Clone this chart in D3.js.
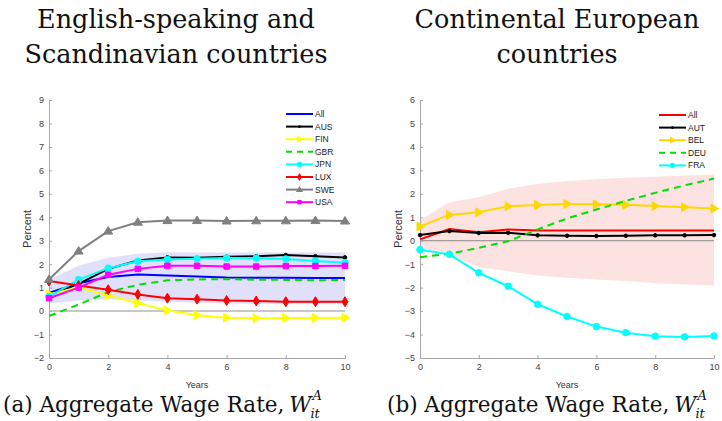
<!DOCTYPE html>
<meta charset="utf-8">
<head>
<script src="https://d3js.org/d3.v7.min.js"></script>
<style>
  body { margin: 0; background: #fff; }
  svg text { font-family: "Liberation Sans", Arial, sans-serif; }
</style>
</head>
<body>
<div id="chart"></div>
<script>
var years = [0, 1, 2, 3, 4, 5, 6, 7, 8, 9, 10];

// panel (a): English-speaking and Scandinavian countries
var leftNames = ["All", "AUS", "FIN", "GBR", "JPN", "LUX", "SWE", "USA"];
var leftAll = [0.77, 1.19, 1.45, 1.56, 1.52, 1.48, 1.43, 1.42, 1.42, 1.41, 1.41];
var leftAUS = [0.67, 1.16, 1.80, 2.16, 2.29, 2.27, 2.32, 2.34, 2.39, 2.34, 2.29];
var leftFIN = [0.72, 1.00, 0.67, 0.34, 0.03, -0.18, -0.28, -0.30, -0.29, -0.29, -0.28];
var leftGBR = [-0.21, 0.28, 0.81, 1.12, 1.31, 1.35, 1.36, 1.34, 1.33, 1.31, 1.33];
var leftJPN = [0.62, 1.34, 1.83, 2.12, 2.20, 2.23, 2.26, 2.26, 2.22, 2.14, 2.06];
var leftLUX = [1.28, 1.09, 0.91, 0.71, 0.55, 0.51, 0.45, 0.43, 0.40, 0.40, 0.40];
var leftSWE = [1.35, 2.56, 3.41, 3.79, 3.86, 3.86, 3.84, 3.85, 3.85, 3.86, 3.84];
var leftUSA = [0.55, 1.00, 1.55, 1.80, 1.93, 1.93, 1.90, 1.90, 1.92, 1.92, 1.93];
var leftBandHi = [1.35, 1.93, 2.27, 2.44, 2.51, 2.50, 2.50, 2.50, 2.50, 2.50, 2.50];
var leftBandLo = [0.32, 0.45, 0.50, 0.45, 0.40, 0.35, 0.32, 0.30, 0.30, 0.30, 0.30];

// panel (b): Continental European countries
var rightNames = ["All", "AUT", "BEL", "DEU", "FRA"];
var rightAll = [0.06, 0.50, 0.36, 0.48, 0.44, 0.44, 0.44, 0.44, 0.44, 0.44, 0.44];
var rightAUT = [0.24, 0.41, 0.33, 0.34, 0.23, 0.21, 0.20, 0.21, 0.23, 0.23, 0.24];
var rightBEL = [0.61, 1.10, 1.21, 1.47, 1.52, 1.57, 1.55, 1.53, 1.48, 1.43, 1.37];
var rightDEU = [-0.70, -0.56, -0.30, -0.02, 0.48, 0.95, 1.33, 1.70, 2.04, 2.36, 2.65];
var rightFRA = [-0.38, -0.58, -1.37, -1.94, -2.71, -3.23, -3.66, -3.92, -4.07, -4.10, -4.06];
var rightBandHi = [0.87, 1.64, 1.85, 2.22, 2.42, 2.55, 2.62, 2.68, 2.73, 2.78, 2.82];
var rightBandLo = [-0.40, -0.62, -1.13, -1.30, -1.48, -1.58, -1.65, -1.72, -1.80, -1.86, -1.91];

var leftTicksY = [-2, -1, 0, 1, 2, 3, 4, 5, 6, 7, 8, 9];
var rightTicksY = [-5, -4, -3, -2, -1, 0, 1, 2, 3, 4, 5, 6];
var ticksX = [0, 2, 4, 6, 8, 10];

var W = 722, H = 421;
var svg = d3.select("#chart").append("svg").attr("width", W).attr("height", H);

var styles = {
  "All":  {color: "#0000ff", marker: null},
  "AUS":  {color: "#000000", marker: "dot"},
  "FIN":  {color: "#ffff00", marker: "right"},
  "GBR":  {color: "#00e000", marker: null, dash: "7,5"},
  "JPN":  {color: "#00ffff", marker: "circle"},
  "LUX":  {color: "#ff0000", marker: "diamond"},
  "SWE":  {color: "#808080", marker: "up"},
  "USA":  {color: "#ff00ff", marker: "square"}
};
var stylesR = {
  "All":  {color: "#ff0000", marker: null},
  "AUT":  {color: "#000000", marker: "dot"},
  "BEL":  {color: "#ffd700", marker: "right"},
  "DEU":  {color: "#00e000", marker: null, dash: "7,5"},
  "FRA":  {color: "#00ffff", marker: "circle"}
};

function markerPath(kind) {
  if (kind === "circle") return d3.symbol().type(d3.symbolCircle).size(34)();
  if (kind === "square") return d3.symbol().type(d3.symbolSquare).size(30)();
  if (kind === "diamond") return "M0,-5L3,0L0,5L-3,0Z";
  if (kind === "up") return "M0,-4.5L4.5,3L-4.5,3Z";
  if (kind === "right") return "M4.5,0L-3,-4.5L-3,4.5Z";
  if (kind === "dot") return d3.symbol().type(d3.symbolCircle).size(10)();
  return null;
}

function drawPanel(cfg) {
  var g = svg.append("g");
  var x = d3.scaleLinear().domain([0, 10]).range([cfg.x0, cfg.x1]);
  var y = d3.scaleLinear().domain(cfg.ydom).range([358, 100]);

  // confidence band
  var area = d3.area().x(function (d, i) { return x(years[i]); })
    .y0(function (d, i) { return y(cfg.lo[i]); })
    .y1(function (d, i) { return y(cfg.hi[i]); });
  g.append("path").datum(cfg.hi).attr("d", area).attr("fill", cfg.band);

  // zero line
  g.append("line").attr("x1", x(0)).attr("x2", x(10)).attr("y1", y(0)).attr("y2", y(0))
    .attr("stroke", cfg.zeroColor).attr("stroke-width", cfg.zeroWidth);

  // axes
  var yAxis = d3.axisLeft(y).tickValues(cfg.yticks).tickSize(-3).tickPadding(5).tickFormat(d3.format("d"));
  var xAxis = d3.axisBottom(x).tickValues(ticksX).tickSize(-3).tickPadding(6).tickFormat(d3.format("d"));
  var ga = g.append("g").attr("transform", "translate(" + cfg.x0 + ",0)").call(yAxis);
  var gb = g.append("g").attr("transform", "translate(0,358)").call(xAxis);
  [ga, gb].forEach(function (a) {
    a.select(".domain").attr("stroke", "#a8a8a8");
    a.selectAll(".tick line").attr("stroke", "#a8a8a8");
    a.selectAll(".tick text").attr("fill", "#444").style("font-size", "9px");
  });

  // series
  var line = d3.line().x(function (d, i) { return x(years[i]); }).y(function (d) { return y(d); });
  cfg.names.forEach(function (n, k) {
    var st = cfg.styles[n], vals = cfg.series[k];
    g.append("path").datum(vals).attr("d", line).attr("fill", "none")
      .attr("stroke", st.color).attr("stroke-width", 2)
      .attr("stroke-dasharray", st.dash || null);
    if (st.marker) {
      g.selectAll(null).data(vals).enter().append("path")
        .attr("d", markerPath(st.marker))
        .attr("transform", function (d, i) { return "translate(" + x(years[i]) + "," + y(d) + ")"; })
        .attr("fill", st.color).attr("stroke", st.color).attr("stroke-width", 1);
    }
  });

  // legend
  cfg.names.forEach(function (n, k) {
    var st = cfg.styles[n], ly = cfg.legY + k * cfg.legStep;
    g.append("line").attr("x1", cfg.legX).attr("x2", cfg.legX + 27).attr("y1", ly).attr("y2", ly)
      .attr("stroke", st.color).attr("stroke-width", 2).attr("stroke-dasharray", st.dash ? "6,5" : null);
    if (st.marker) {
      g.append("path").attr("d", markerPath(st.marker))
        .attr("transform", "translate(" + (cfg.legX + 13.5) + "," + ly + ") scale(0.8)")
        .attr("fill", st.color);
    }
    g.append("text").attr("x", cfg.legX + 29).attr("y", ly + 3).text(n)
      .style("font-size", "8.5px").attr("fill", "#222");
  });

  // axis labels
  g.append("text").attr("x", (cfg.x0 + cfg.x1) / 2).attr("y", 388).attr("text-anchor", "middle")
    .style("font-size", "9px").attr("fill", "#333").text("Years");
  g.append("text").attr("transform", "translate(" + (cfg.x0 - 18) + ",229) rotate(-90)")
    .attr("text-anchor", "middle").style("font-size", "11px").attr("fill", "#333").text("Percent");

  // title
  cfg.title.forEach(function (t, i) {
    g.append("text").attr("x", cfg.titleX).attr("y", 28 + i * 35).attr("text-anchor", "middle")
      .style("font-family", "'DejaVu Serif', serif").style("font-size", "25.5px").attr("fill", "#111").text(t);
  });

  // caption
  var cap = g.append("text").attr("x", cfg.capX).attr("y", 412)
    .style("font-family", "'DejaVu Serif', serif").style("font-size", "21.5px").attr("fill", "#111")
    .text(cfg.caption);
  var cw = cap.node().getComputedTextLength();
  var wx = cfg.capX + cw + 5;
  var wt = g.append("text").attr("x", wx).attr("y", 412)
    .style("font-family", "'DejaVu Serif', serif").style("font-style", "italic")
    .style("font-size", "21.5px").attr("fill", "#111").text("W");
  var ww = wt.node().getComputedTextLength();
  g.append("text").attr("x", wx + ww + 1).attr("y", 400)
    .style("font-family", "'DejaVu Serif', serif").style("font-style", "italic")
    .style("font-size", "13px").attr("fill", "#111").text("A");
  g.append("text").attr("x", wx + ww - 1).attr("y", 418)
    .style("font-family", "'DejaVu Serif', serif").style("font-style", "italic")
    .style("font-size", "13px").attr("fill", "#111").text("it");
}

drawPanel({
  x0: 49, x1: 345, ydom: [-2, 9], yticks: leftTicksY,
  names: leftNames,
  series: [leftAll, leftAUS, leftFIN, leftGBR, leftJPN, leftLUX, leftSWE, leftUSA],
  styles: styles, hi: leftBandHi, lo: leftBandLo, band: "#e0e0fa",
  zeroColor: "#c8c8c8", zeroWidth: 2,
  legX: 286, legY: 114, legStep: 12.6,
  title: ["English-speaking and", "Scandinavian countries"], titleX: 176,
  caption: "(a) Aggregate Wage Rate,", capX: 3
});

drawPanel({
  x0: 420, x1: 714, ydom: [-5, 6], yticks: rightTicksY,
  names: rightNames,
  series: [rightAll, rightAUT, rightBEL, rightDEU, rightFRA],
  styles: stylesR, hi: rightBandHi, lo: rightBandLo, band: "#fde2e2",
  zeroColor: "#888", zeroWidth: 1,
  legX: 659, legY: 115, legStep: 12.6,
  title: ["Continental European", "countries"], titleX: 557,
  caption: "(b) Aggregate Wage Rate,", capX: 387
});
</script>
</body>
</html>
